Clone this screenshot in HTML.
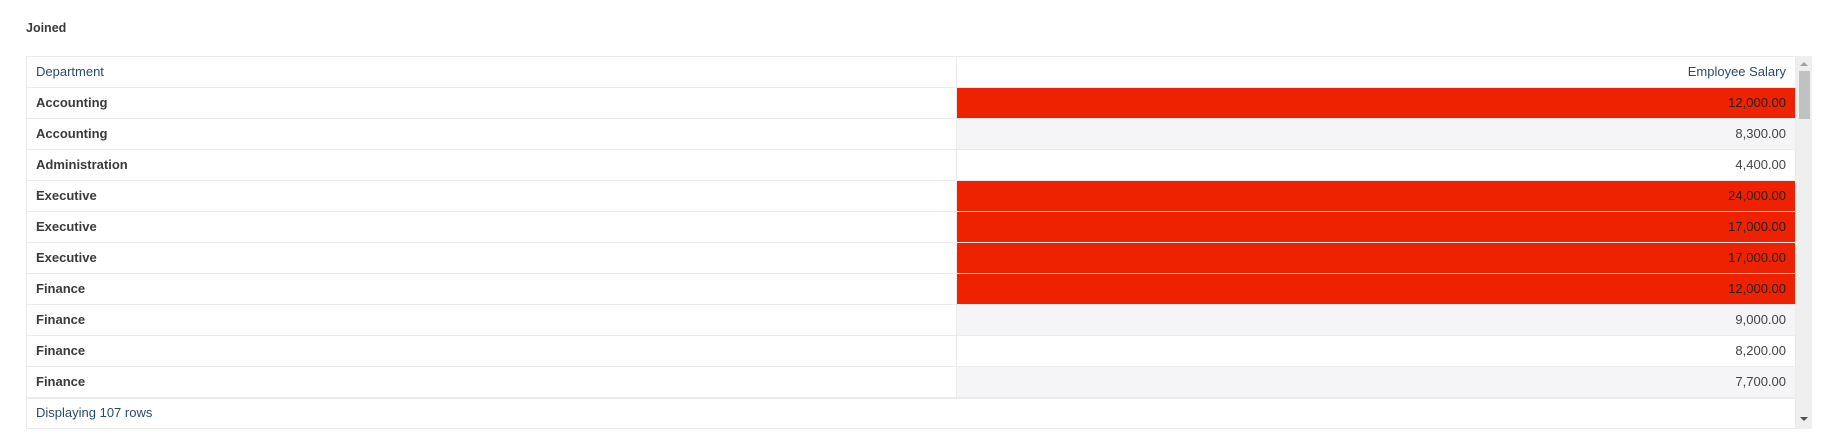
<!DOCTYPE html>
<html><head><meta charset="utf-8"><style>
body{margin:0;width:1838px;height:448px;background:#fff;font-family:"Liberation Sans",sans-serif;position:relative;overflow:hidden}
#title{position:absolute;left:26px;top:21px;font-size:12.5px;font-weight:bold;color:#3a3a3a}
#tbl{position:absolute;left:26px;top:56px;width:1770px;border:1px solid #ebebef;box-sizing:border-box}
.row{height:31px;border-bottom:1px solid #ebebef;box-sizing:border-box;display:flex;font-size:13px}
.c1{width:930px;border-right:1px solid #ebebef;padding-left:9px;line-height:30px;box-sizing:border-box;font-weight:bold;color:#3a3a3a}
.c2{flex:1;text-align:right;padding-right:9px;line-height:30px;color:#444}
.hdr .c1,.hdr .c2{font-weight:normal;color:#2a4a6b}
#foot{position:absolute;left:26px;top:397px;width:1770px;height:32px;border:1px solid #ebebef;box-sizing:border-box;font-size:13px;color:#2a4a6b;padding-left:9px;line-height:30px}
#sb{position:absolute;left:1796px;top:56px;width:16px;height:373px;background:#efefef}
#thumb{position:absolute;left:3px;top:15px;width:11px;height:48px;background:#c1c1c1}
</style></head><body>
<div id="title">Joined</div>
<div id="tbl">
<div class="row hdr"><div class="c1">Department</div><div class="c2">Employee Salary</div></div>
<div id="body"></div>
</div>
<div id="foot">Displaying 107 rows</div>
<div id="sb"><div id="thumb"></div>
<div style="position:absolute;left:4px;top:6px;width:0;height:0;border-left:4px solid transparent;border-right:4px solid transparent;border-bottom:4px solid #a0a0a0"></div>
<div style="position:absolute;left:4px;top:361px;width:0;height:0;border-left:4px solid transparent;border-right:4px solid transparent;border-top:4px solid #505050"></div></div>
<script>
const departments=["Accounting","Accounting","Administration","Executive","Executive","Executive","Finance","Finance","Finance","Finance"];
const salaries=[12000,8300,4400,24000,17000,17000,12000,9000,8200,7700];
const threshold=10000;
const body=document.getElementById('body');
departments.forEach((d,i)=>{
const r=document.createElement('div');r.className='row';


const a=document.createElement('div');a.className='c1';a.textContent=d;


const b=document.createElement('div');b.className='c2';


b.textContent=salaries[i].toLocaleString('en-US',{minimumFractionDigits:2,maximumFractionDigits:2});
if(salaries[i]>=threshold){b.style.background='#ee2200';b.style.color='#222';}
else if(i%2==1){b.style.background='#f5f5f7';}
r.appendChild(a);r.appendChild(b);body.appendChild(r);
});
</script>
</body></html>
